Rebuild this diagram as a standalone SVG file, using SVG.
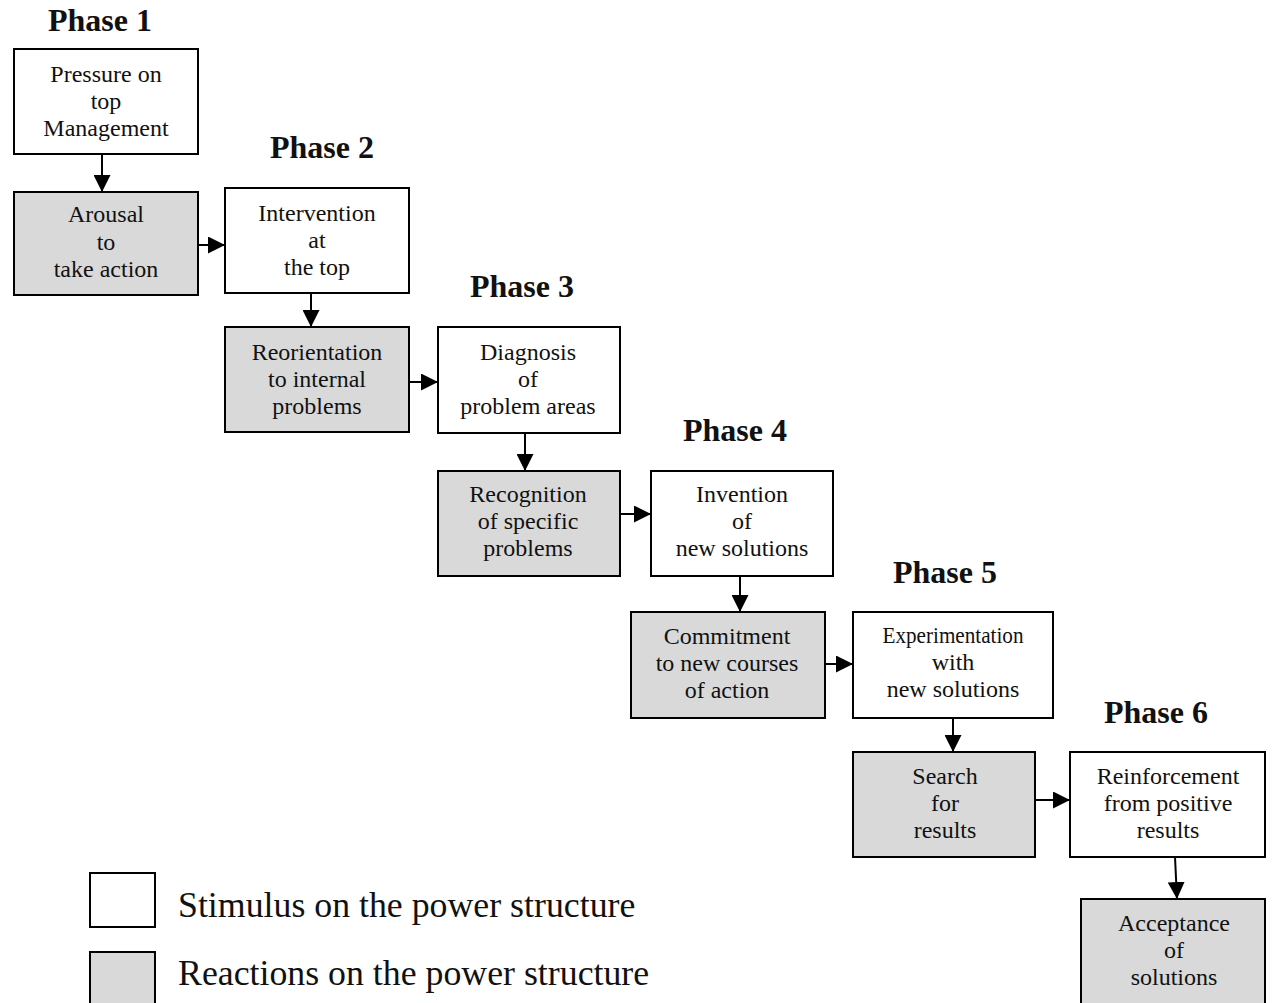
<svg xmlns="http://www.w3.org/2000/svg" width="1273" height="1003" viewBox="0 0 1273 1003">
<defs>
<marker id="ah" markerUnits="userSpaceOnUse" markerWidth="17" markerHeight="17" refX="17" refY="8.5" orient="auto">
<path d="M0,0 L17,8.5 L0,17 z" fill="#000"/>
</marker>
<style>
.s{fill:#fff;stroke:#000;stroke-width:2}
.r{fill:#d9d9d9;stroke:#000;stroke-width:2}
.t{font-family:"Liberation Serif","Times New Roman",serif;font-size:24px;text-anchor:middle;fill:#111}
.p{font-family:"Liberation Serif","Times New Roman",serif;font-size:32px;font-weight:bold;text-anchor:middle;fill:#111}
.l{font-family:"Liberation Serif","Times New Roman",serif;font-size:35.8px;fill:#111}
.c{stroke:#000;stroke-width:2;fill:none;marker-end:url(#ah)}
</style>
</defs>
<rect width="1273" height="1003" fill="#fff"/>

<g id="phases">
<text class="p" x="100" y="31">Phase 1</text>
<text class="p" x="322" y="158">Phase 2</text>
<text class="p" x="522" y="297">Phase 3</text>
<text class="p" x="735" y="441">Phase 4</text>
<text class="p" x="945" y="583">Phase 5</text>
<text class="p" x="1156" y="723">Phase 6</text>
</g>

<g id="connectors">
<line class="c" x1="102" y1="154" x2="102" y2="192"/>
<line class="c" x1="198" y1="245" x2="225" y2="245"/>
<line class="c" x1="311" y1="293" x2="311" y2="327"/>
<line class="c" x1="409" y1="382" x2="438" y2="382"/>
<line class="c" x1="525" y1="433" x2="525" y2="471"/>
<line class="c" x1="620" y1="514" x2="651" y2="514"/>
<line class="c" x1="740" y1="576" x2="740" y2="612"/>
<line class="c" x1="825" y1="664" x2="853" y2="664"/>
<line class="c" x1="953" y1="718" x2="953" y2="752"/>
<line class="c" x1="1035" y1="800" x2="1070" y2="800"/>
<line class="c" x1="1175" y1="857" x2="1177" y2="899"/>
</g>

<g id="n1">
<rect class="s" x="14" y="49" width="184" height="105"/>
<text class="t" x="106" y="82">Pressure on</text>
<text class="t" x="106" y="109">top</text>
<text class="t" x="106" y="136">Management</text>
</g>
<g id="n2">
<rect class="r" x="14" y="192" width="184" height="103"/>
<text class="t" x="106" y="222">Arousal</text>
<text class="t" x="106" y="250">to</text>
<text class="t" x="106" y="277">take action</text>
</g>
<g id="n3">
<rect class="s" x="225" y="188" width="184" height="105"/>
<text class="t" x="317" y="221">Intervention</text>
<text class="t" x="317" y="248">at</text>
<text class="t" x="317" y="275">the top</text>
</g>
<g id="n4">
<rect class="r" x="225" y="327" width="184" height="105"/>
<text class="t" x="317" y="360">Reorientation</text>
<text class="t" x="317" y="387">to internal</text>
<text class="t" x="317" y="414">problems</text>
</g>
<g id="n5">
<rect class="s" x="438" y="327" width="182" height="106"/>
<text class="t" x="528" y="360">Diagnosis</text>
<text class="t" x="528" y="387">of</text>
<text class="t" x="528" y="414">problem areas</text>
</g>
<g id="n6">
<rect class="r" x="438" y="471" width="182" height="105"/>
<text class="t" x="528" y="502">Recognition</text>
<text class="t" x="528" y="529">of specific</text>
<text class="t" x="528" y="556">problems</text>
</g>
<g id="n7">
<rect class="s" x="651" y="471" width="182" height="105"/>
<text class="t" x="742" y="502">Invention</text>
<text class="t" x="742" y="529">of</text>
<text class="t" x="742" y="556">new solutions</text>
</g>
<g id="n8">
<rect class="r" x="631" y="612" width="194" height="106"/>
<text class="t" x="727" y="644">Commitment</text>
<text class="t" x="727" y="671">to new courses</text>
<text class="t" x="727" y="698">of action</text>
</g>
<g id="n9">
<rect class="s" x="853" y="612" width="200" height="106"/>
<text class="t" x="953" y="643" textLength="141" lengthAdjust="spacingAndGlyphs">Experimentation</text>
<text class="t" x="953" y="670">with</text>
<text class="t" x="953" y="697">new solutions</text>
</g>
<g id="n10">
<rect class="r" x="853" y="752" width="182" height="105"/>
<text class="t" x="945" y="784">Search</text>
<text class="t" x="945" y="811">for</text>
<text class="t" x="945" y="838">results</text>
</g>
<g id="n11">
<rect class="s" x="1070" y="752" width="195" height="105"/>
<text class="t" x="1168" y="784">Reinforcement</text>
<text class="t" x="1168" y="811">from positive</text>
<text class="t" x="1168" y="838">results</text>
</g>
<g id="n12">
<rect class="r" x="1081" y="899" width="184" height="110"/>
<text class="t" x="1174" y="931">Acceptance</text>
<text class="t" x="1174" y="958">of</text>
<text class="t" x="1174" y="985">solutions</text>
</g>

<g id="legend">
<rect class="s" x="90" y="873" width="65" height="54"/>
<text class="l" x="178" y="917">Stimulus on the power structure</text>
<rect class="r" x="90" y="952" width="65" height="60"/>
<text class="l" x="178" y="985">Reactions on the power structure</text>
</g>
</svg>
